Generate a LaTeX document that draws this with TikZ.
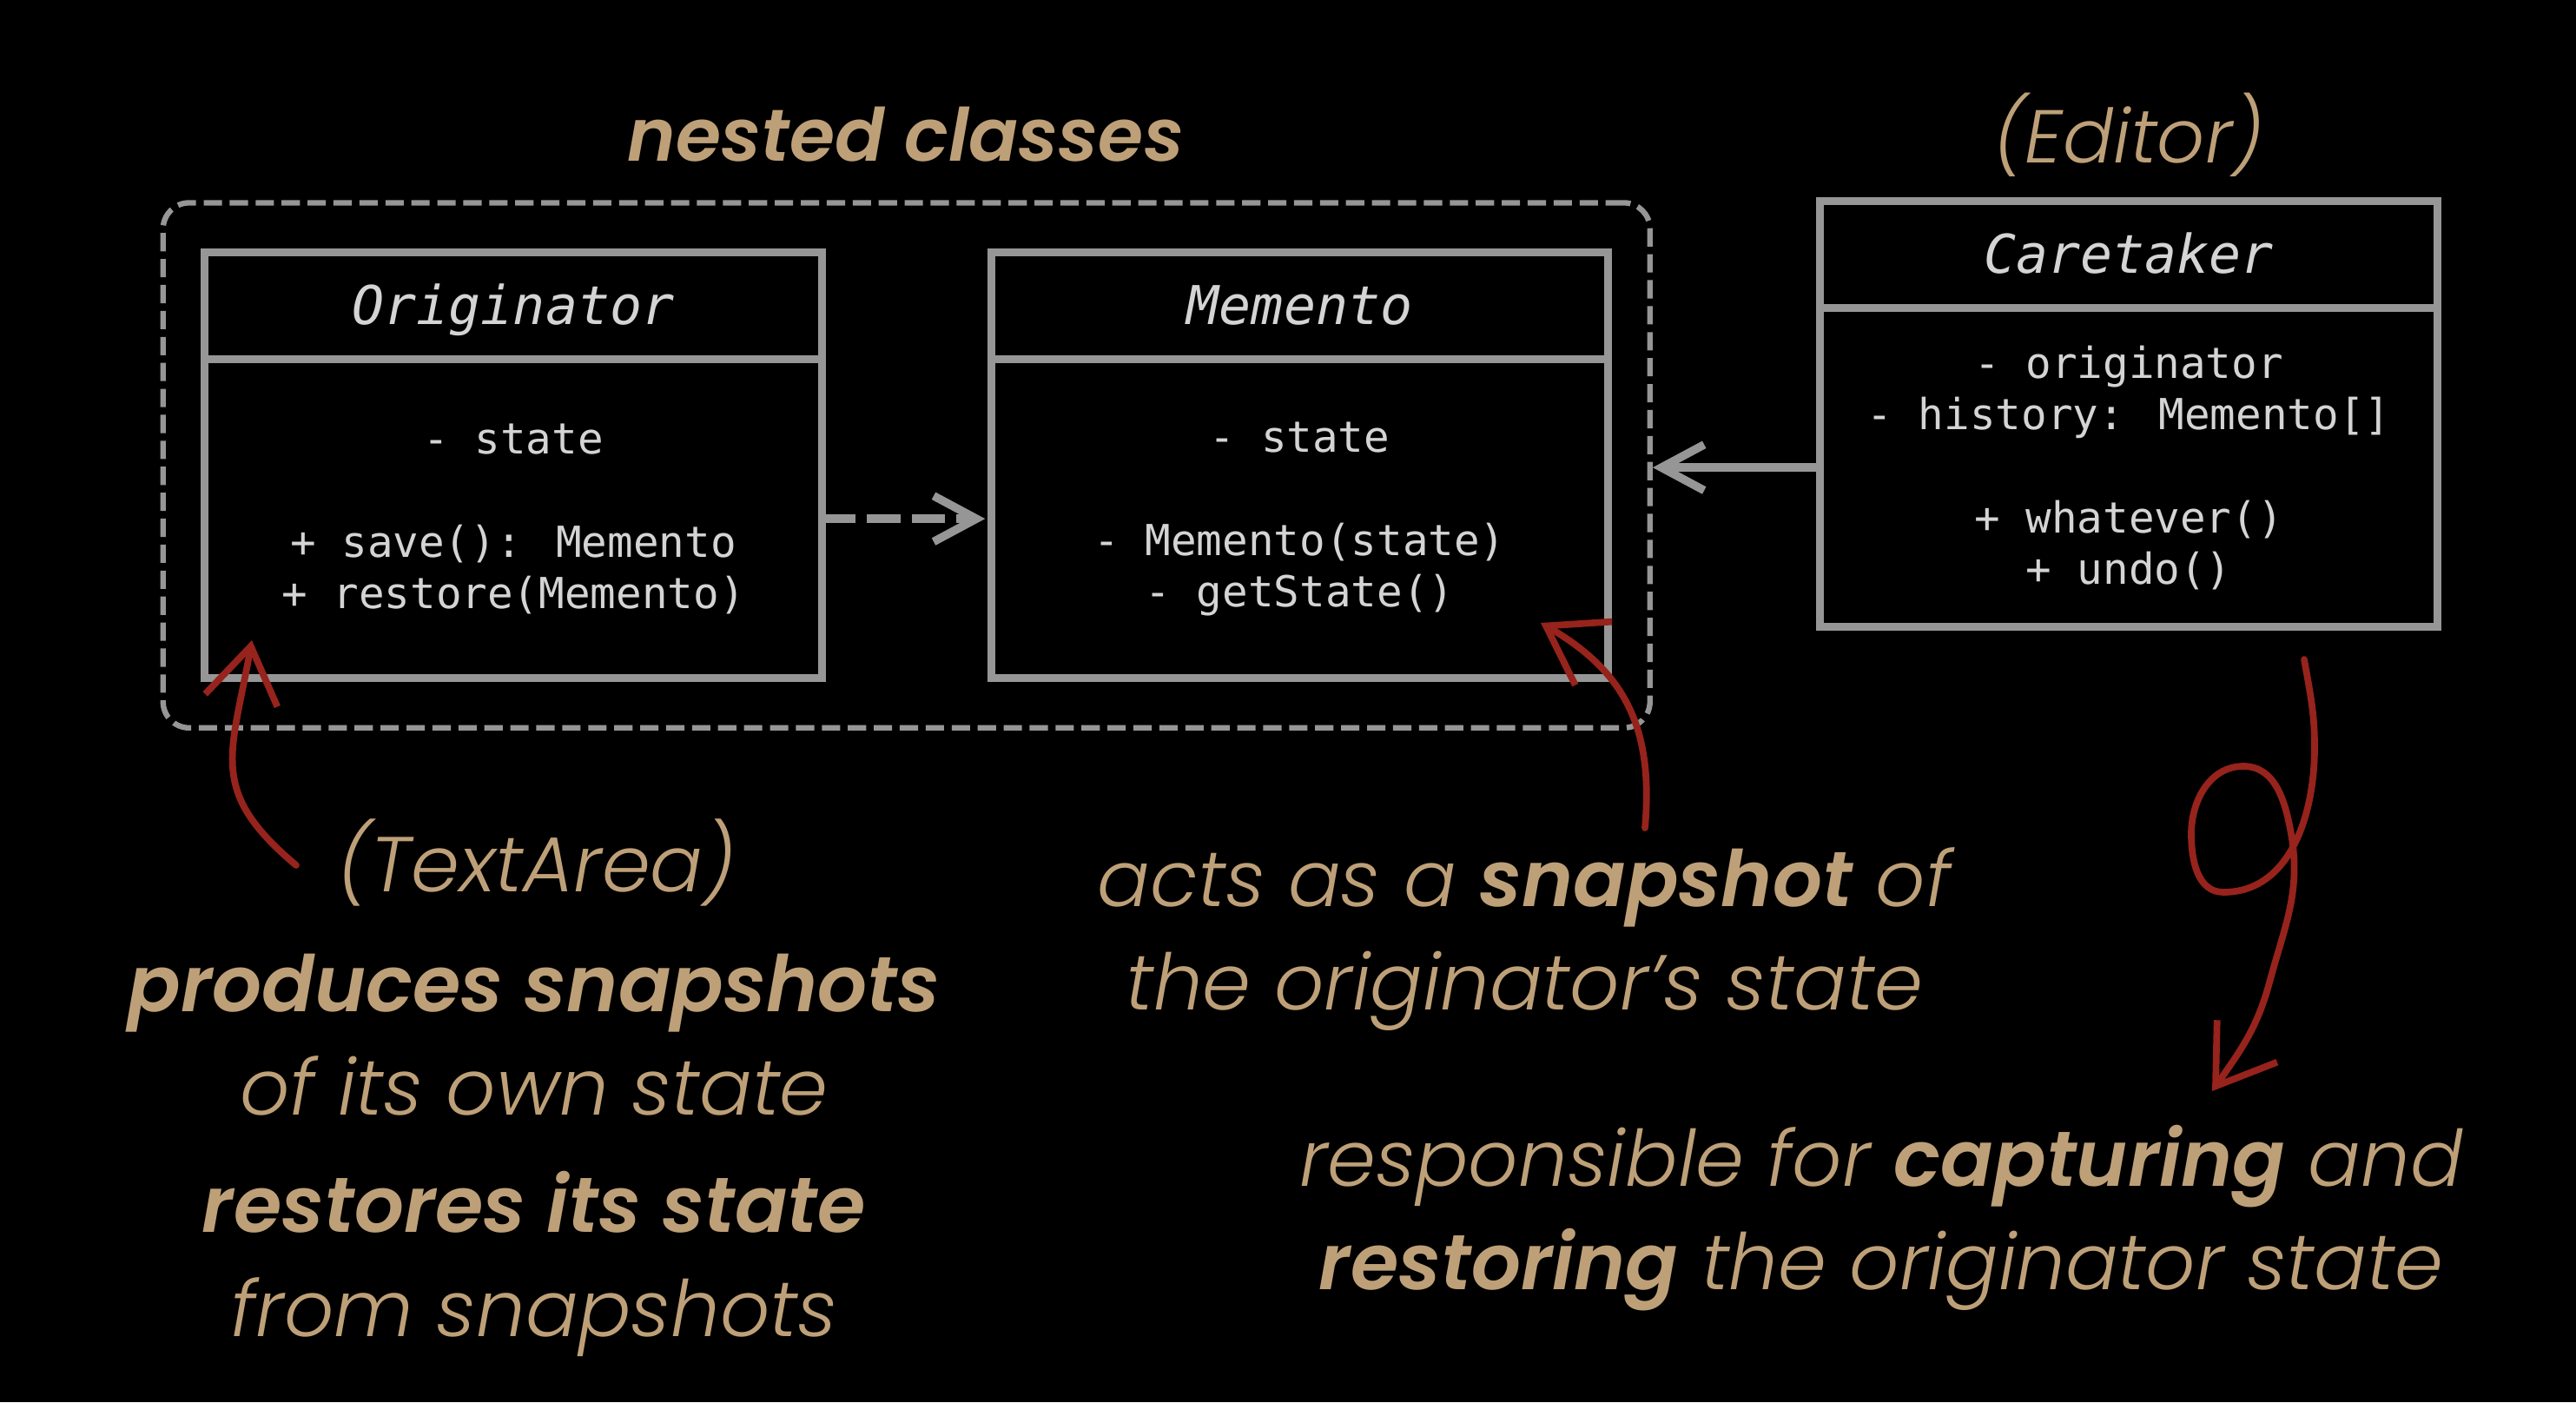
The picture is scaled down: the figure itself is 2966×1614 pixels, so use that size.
\documentclass[tikz,border=0pt]{standalone}
\usepackage{fontspec}
\usepackage{tikz}
\usetikzlibrary{arrows.meta}
\usetikzlibrary{positioning}
\usetikzlibrary{fit}

\newfontfamily\codefont{DejaVu Sans Mono}
\newfontfamily\notefont{Poppins}[ItalicFont={Poppins Light Italic},BoldItalicFont={Poppins SemiBold Italic}]

\definecolor{boxgray}{RGB}{150,150,150}
\definecolor{codegray}{RGB}{212,212,212}
\definecolor{notetan}{RGB}{190,160,120}
\definecolor{inkred}{RGB}{150,35,28}

\tikzset{
  classhead/.style={draw=boxgray,line width=2.6pt,outer sep=0pt,minimum width=7.1cm,minimum height=1.23cm,
    text height=12.4pt,text depth=0pt,text=codegray,font=\codefont\itshape\fontsize{17.5}{21}\selectfont},
  classbody/.style={draw=boxgray,line width=2.6pt,outer sep=0pt,minimum width=7.1cm,minimum height=3.67cm,
    text=codegray,align=center,font=\codefont\fontsize{14}{16.8}\selectfont},
  note/.style={text=notetan,align=center,font=\notefont\itshape\fontsize{25.5}{34}\selectfont},
  grayarrow/.style={draw=boxgray,line width=2.7pt,-{Straight Barb[length=14pt,width=15pt]}},
  redarrow/.style={draw=inkred,line width=2.2pt,line cap=round,-{Straight Barb[length=18pt,width=24pt]}}
}

\begin{document}
\begin{tikzpicture}[x=0.01cm,y=-0.01cm]
\fill[black] (0,0) rectangle (2966,1614);
\useasboundingbox (0,0) rectangle (2966,1614);

% classes
\node[classhead] (orig) at (591,352) {Originator};
\node[classbody,below=0pt of orig] (origbody) {- state\\[17pt]+ save(): Memento\\+ restore(Memento)};
\node[classhead,right=1.95cm of orig] (mem) {Memento};
\node[classbody,below=0pt of mem] (membody) {- state\\[17pt]- Memento(state)\\- getState()};
\node[classhead] (care) at (2451,293) {Caretaker};
\node[classbody,below=0pt of care] (carebody) {- originator\\- history: Memento[]\\[17pt]+ whatever()\\+ undo()};

% nested group
\node[draw=boxgray,line width=1.8pt,dash pattern=on 6pt off 2.5pt,rounded corners=0.3cm,
  inner xsep=0.48cm,inner ysep=0.57cm,fit=(orig)(membody)] (nested) {};
\node[note,font=\notefont\itshape\bfseries\fontsize{24}{34}\selectfont] (nestedlabel) at (1043,155) {nested classes};
\node[note,font=\notefont\itshape\fontsize{24.5}{34}\selectfont] (editor) at (2451,155) {(Editor)};

\draw[grayarrow,dash pattern=on 11pt off 3.7pt,shorten >=2pt] (origbody) -- (membody);
\draw[grayarrow] (carebody.west) -- (carebody.west -| nested.east);

% notes
\node[note] (textarea) at (618,993) {(TextArea)};
\node[note] (producesnote) at (615,1191) {{\bfseries produces snapshots}\\of its own state};
\node[note] (restoresnote) at (615,1455) {{\bfseries restores its state}\\from snapshots};
\node[note] (snapnote) at (1755,1081) {acts as a {\bfseries snapshot} of\\the originator’s state};
\node[note] (carenote) at (2166,1402) {responsible for {\bfseries capturing} and\\{\bfseries restoring} the originator state};

% red marks
\coordinate (origstart) at (341,996);
\coordinate (origtip) at (290,737);
\coordinate (memstart) at (1894,953);
\coordinate (memtip) at (1774,717);
\draw[redarrow] (origstart) to[out=140,in=-100,looseness=1.3] (origtip);
\draw[redarrow] (memstart) to[out=85,in=-30,looseness=1.1] (memtip);
\draw[redarrow] (2653,759) to[out=-80,in=90] (2665,860) to[out=-90,in=0] (2560,1027)
  to[out=180,in=-90] (2523,960) to[out=90,in=180] (2583,882) to[out=0,in=100] (2638,960)
  to[out=-80,in=75] (2613,1131) to[out=-105,in=55] (2547,1256);
\end{tikzpicture}
\end{document}
